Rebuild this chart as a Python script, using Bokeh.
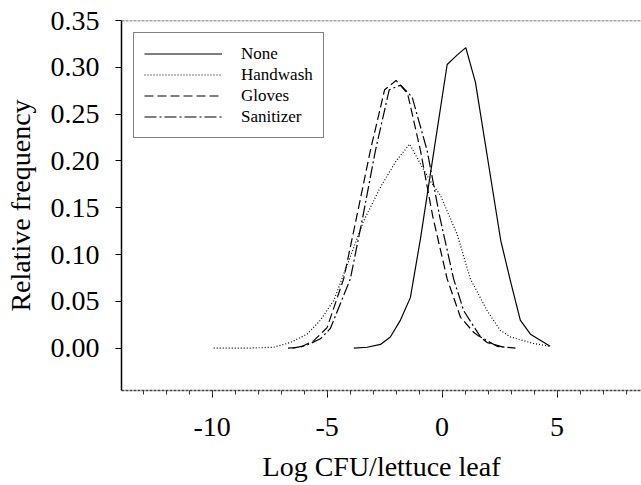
from bokeh.plotting import figure
from bokeh.models import (Legend, LegendItem, FixedTicker, NumeralTickFormatter,
                          Range1d, Span)
from bokeh.embed import file_html
from bokeh.resources import INLINE

# ---- data ----
none_x = [-3.84, -3.26, -2.68, -2.25, -1.81, -1.38, -0.94, 0.22, 0.65, 1.03, 1.45,
          2.55, 2.97, 3.40, 3.84, 4.70]
none_y = [0.000, 0.001, 0.004, 0.012, 0.030, 0.054, 0.117, 0.303, 0.313, 0.321, 0.284,
          0.115, 0.072, 0.030, 0.015, 0.002]

hand_x = [-9.93, -8.50, -7.32, -6.60, -5.87, -5.29, -4.71, -4.00, -3.41, -2.68, -2.00,
          -1.41, -0.90, -0.50, -0.07, 0.65, 1.23, 1.96, 2.53, 2.97, 3.98, 4.70]
hand_y = [0.000, 0.000, 0.001, 0.006, 0.015, 0.030, 0.051, 0.097, 0.136, 0.172, 0.200,
          0.218, 0.195, 0.178, 0.163, 0.122, 0.074, 0.040, 0.019, 0.012, 0.005, 0.002]

glove_x = [-6.70, -6.16, -5.58, -5.00, -4.28, -3.70, -3.12, -2.50, -2.00, -1.50, -0.94,
           -0.40, 0.22, 0.80, 1.37, 1.96, 2.83]
glove_y = [0.000, 0.001, 0.008, 0.022, 0.074, 0.142, 0.211, 0.276, 0.286, 0.272, 0.211,
           0.140, 0.074, 0.033, 0.017, 0.006, 0.000]

sani_x = [-6.50, -5.90, -5.29, -4.86, -3.99, -3.45, -2.90, -2.30, -1.80, -1.30, -0.65,
          -0.10, 0.50, 0.94, 1.67, 2.39, 3.19]
sani_y = [0.000, 0.003, 0.010, 0.021, 0.074, 0.140, 0.211, 0.276, 0.281, 0.268, 0.211,
          0.140, 0.074, 0.040, 0.012, 0.002, 0.000]

series_names = ["None", "Handwash", "Gloves", "Sanitizer"]
y_ticks = [0.00, 0.05, 0.10, 0.15, 0.20, 0.25, 0.30, 0.35]
x_ticks = [-10, -5, 0, 5]
x_tick_labels = ["-10", "-5", "0", "5"]
x_minor = list(range(-14, 9))

FONT = "Liberation Serif"

p = figure(width=641, height=485, output_backend="svg", toolbar_location=None,
           x_range=Range1d(-13.94, 8.67), y_range=Range1d(-0.0452, 0.35),
           min_border_left=121, min_border_top=20, min_border_right=0,
           min_border_bottom=95)
p.outline_line_color = None
p.grid.visible = False
p.background_fill_color = "white"
p.border_fill_color = "white"

styles = [("solid", None), ("dotted", "1 2"), ("dashed", "9 4"), ("dashdot", "12 3 2 3")]
data = [(none_x, none_y), (hand_x, hand_y), (glove_x, glove_y), (sani_x, sani_y)]
renderers = []
for (xs, ys), (name, dash) in zip(data, styles):
    kw = dict(line_color="black", line_width=1.2)
    if dash:
        kw["line_dash"] = dash
    r = p.line(xs, ys, **kw)
    renderers.append(r)

# top border
top = Span(location=0.35, dimension="width", line_color="#444444",
           line_width=1.5, line_dash="3 1")
p.add_layout(top)

# y axis
ya = p.yaxis[0]
ya.ticker = FixedTicker(ticks=y_ticks)
ya.formatter = NumeralTickFormatter(format="0.00")
ya.axis_line_color = "black"
ya.axis_line_width = 1.5
ya.major_tick_out = 6
ya.major_tick_in = 0
ya.minor_tick_line_color = None
ya.major_label_text_font = FONT
ya.major_label_text_font_size = "28px"
ya.major_label_text_color = "black"
ya.major_label_standoff = 16
ya.axis_label = "Relative frequency"
ya.axis_label_text_font = FONT
ya.axis_label_text_font_size = "28px"
ya.axis_label_text_font_style = "normal"
ya.axis_label_text_color = "black"
ya.axis_label_standoff = 12

# x axis
xa = p.xaxis[0]
xa.ticker = FixedTicker(ticks=x_ticks, minor_ticks=x_minor)
xa.major_label_overrides = {t: l for t, l in zip(x_ticks, x_tick_labels)}
xa.axis_line_color = "#444444"
xa.axis_line_width = 1.5
xa.axis_line_dash = "3 1"
xa.major_tick_out = 7
xa.major_tick_in = 0
xa.minor_tick_out = 4
xa.minor_tick_in = 0
xa.major_tick_line_color = "black"
xa.minor_tick_line_color = "#333333"
xa.major_label_text_font = FONT
xa.major_label_text_font_size = "28px"
xa.major_label_text_color = "black"
xa.major_label_standoff = 20
xa.axis_label = "Log CFU/lettuce leaf"
xa.axis_label_text_font = FONT
xa.axis_label_text_font_size = "28px"
xa.axis_label_text_font_style = "normal"
xa.axis_label_text_color = "black"
xa.axis_label_standoff = 12

legend = Legend(items=[LegendItem(label=n, renderers=[r]) for n, r in zip(series_names, renderers)],
                location="top_left", margin=12, padding=10, spacing=0,
                glyph_width=78, glyph_height=21, label_height=21, label_standoff=19,
                label_text_font=FONT, label_text_font_size="17px", label_text_color="black",
                border_line_color="black", border_line_width=1.2,
                background_fill_color="white", background_fill_alpha=1.0)
p.add_layout(legend)

open("out.html", "w").write(file_html(p, INLINE))
